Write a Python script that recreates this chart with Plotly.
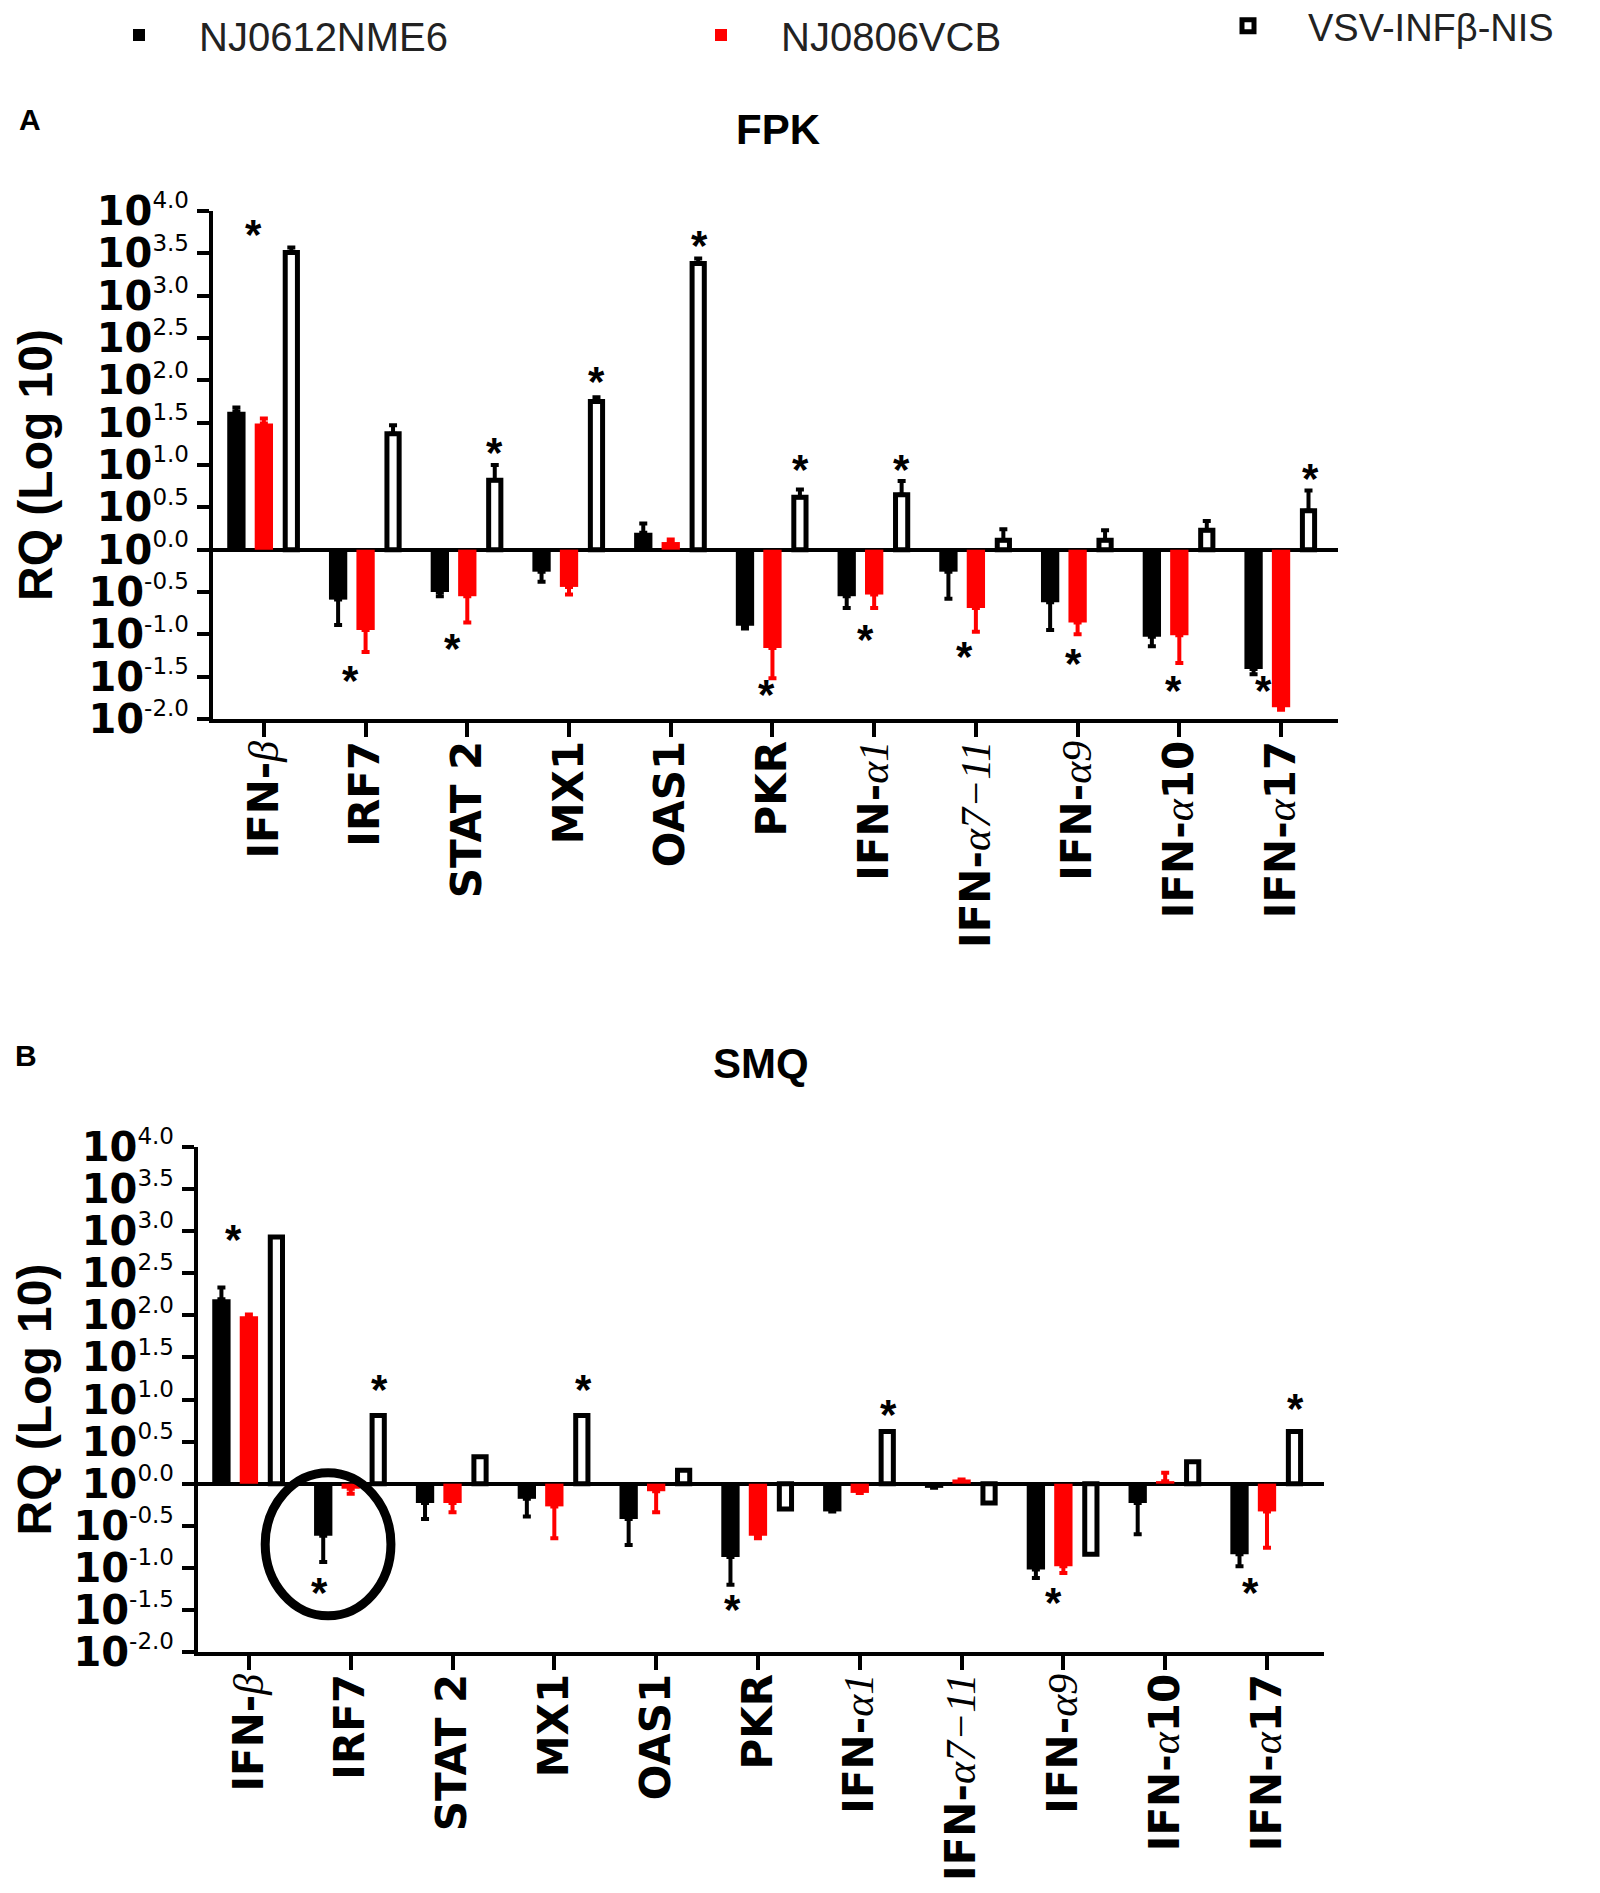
import plotly.graph_objects as go

# ---------------- data ----------------
categories = ["IFN-β", "IRF7", "STAT 2", "MX1", "OAS1", "PKR",
              "IFN-α1", "IFN-α7−11", "IFN-α9", "IFN-α10", "IFN-α17"]

SER = "<span style='font-family:Liberation Serif;font-style:italic;font-weight:normal'>"
tick_labels = ["IFN-" + SER + "β</span>", "IRF7", "STAT 2", "MX1", "OAS1", "PKR",
               "IFN-" + SER + "α1</span>", "IFN-" + SER + "α7−11</span>",
               "IFN-" + SER + "α9</span>", "IFN-" + SER + "α</span>10",
               "IFN-" + SER + "α</span>17"]

series_names = ["NJ0612NME6", "NJ0806VCB", "VSV-INFβ-NIS"]

y_tick_values = [-2.0, -1.5, -1.0, -0.5, 0.0, 0.5, 1.0, 1.5, 2.0, 2.5, 3.0, 3.5, 4.0]

# Panel A: FPK  (log10 RQ)
fpk_nme6 = [1.63, -0.59, -0.50, -0.26, 0.20, -0.90, -0.55, -0.26, -0.62, -1.03, -1.41]
fpk_nme6_err = [0.05, 0.30, 0.05, 0.12, 0.11, 0.03, 0.14, 0.32, 0.33, 0.11, 0.06]
fpk_vcb = [1.49, -0.95, -0.55, -0.44, 0.09, -1.16, -0.53, -0.69, -0.86, -1.01, -1.86]
fpk_vcb_err = [0.06, 0.26, 0.31, 0.09, 0.03, 0.36, 0.16, 0.28, 0.14, 0.33, 0.03]
fpk_vsv = [3.51, 1.37, 0.82, 1.75, 3.38, 0.62, 0.65, 0.11, 0.11, 0.23, 0.46]
fpk_vsv_err = [0.06, 0.10, 0.18, 0.05, 0.06, 0.09, 0.16, 0.13, 0.12, 0.11, 0.24]
fpk_star_cat = [0, 1, 2, 2, 3, 4, 5, 5, 6, 6, 7, 8, 9, 10, 10]
fpk_star_dx = [-0.10, -0.15, 0.27, -0.15, 0.27, 0.28, 0.28, -0.06, 0.27, -0.09, -0.11, -0.04, -0.06, 0.29, -0.17]
fpk_star_y = [3.77, -1.50, 1.20, -1.12, 2.03, 3.64, 1.00, -1.66, 0.99, -1.01, -1.21, -1.30, -1.62, 0.89, -1.62]

# Panel B: SMQ  (log10 RQ)
smq_nme6 = [2.19, -0.62, -0.23, -0.18, -0.42, -0.87, -0.33, -0.05, -1.02, -0.23, -0.84]
smq_nme6_err = [0.14, 0.31, 0.19, 0.21, 0.31, 0.33, 0.0, 0.0, 0.10, 0.37, 0.14]
smq_vcb = [1.99, -0.06, -0.23, -0.27, -0.09, -0.62, -0.11, 0.05, -0.98, 0.03, -0.33]
smq_vcb_err = [0.02, 0.06, 0.11, 0.38, 0.25, 0.03, 0.0, 0.0, 0.08, 0.10, 0.43]
smq_vsv = [2.93, 0.81, 0.32, 0.81, 0.16, -0.30, 0.62, -0.23, -0.84, 0.26, 0.62]
smq_star_cat = [0, 1, 1, 3, 5, 6, 8, 10, 10]
smq_star_dx = [-0.15, 0.28, -0.31, 0.29, -0.25, 0.28, -0.10, 0.28, -0.16]
smq_star_y = [2.95, 1.17, -1.24, 1.17, -1.45, 0.87, -1.36, 0.94, -1.25]

# highlighted region in panel B (ellipse around IRF7)
circle_x = [0.16, 1.395]
circle_y = [-1.57, 0.13]

# ---------------- figure ----------------
W, H = 1600, 1893
FONT = "Liberation Sans, Arial, sans-serif"
WIDE = "DejaVu Sans, Liberation Sans, sans-serif"
xpos = list(range(len(categories)))


def one_sided(vals, errs):
    up = [e if v >= 0 else 0 for v, e in zip(vals, errs)]
    down = [e if v < 0 else 0 for v, e in zip(vals, errs)]
    return up, down


fig = go.Figure()

panels = [
    dict(xa="x", ya="y", data=[(fpk_nme6, fpk_nme6_err), (fpk_vcb, fpk_vcb_err), (fpk_vsv, fpk_vsv_err)],
         show=True),
    dict(xa="x2", ya="y2", data=[(smq_nme6, smq_nme6_err), (smq_vcb, smq_vcb_err), (smq_vsv, None)],
         show=False),
]

styles = [
    dict(color="#000000", line_color="#000000", line_width=0, offset=-0.36, width=0.18, ecolor="#000000"),
    dict(color="#FF0000", line_color="#FF0000", line_width=0, offset=-0.09, width=0.18, ecolor="#FF0000"),
    dict(color="#FFFFFF", line_color="#000000", line_width=5, offset=0.21, width=0.12, ecolor="#000000"),
]
legend_ids = ["legend", "legend2", "legend3"]

for p in panels:
    for i, (vals, errs) in enumerate(p["data"]):
        st = styles[i]
        if errs is not None:
            up, down = one_sided(vals, errs)
            ey = dict(type="data", symmetric=False, array=up, arrayminus=down,
                      color=st["ecolor"], thickness=4, width=4, visible=True)
        else:
            ey = dict(visible=False)
        fig.add_trace(go.Bar(
            x=xpos, y=vals, name=series_names[i],
            xaxis=p["xa"], yaxis=p["ya"],
            offset=st["offset"], width=st["width"],
            marker=dict(color=st["color"], line=dict(color=st["line_color"], width=st["line_width"])),
            error_y=ey,
            showlegend=p["show"], legend=legend_ids[i],
        ))

ytext = ["10<sup><span style='font-size:23px;font-weight:normal'>%.1f</span></sup>" % v for v in y_tick_values]

common_x = dict(range=[-0.5, 10.56], tickmode="array", tickvals=xpos, ticktext=tick_labels,
                tickangle=-90, ticks="outside", ticklen=14, tickwidth=4, tickcolor="black",
                ticklabelstandoff=-13,
                showline=True, linewidth=4, linecolor="black", showgrid=False, zeroline=False,
                tickfont=dict(family=WIDE, size=42, color="black", weight="bold"))
common_y = dict(range=[-2, 4], tickmode="array", tickvals=y_tick_values, ticktext=ytext,
                ticks="outside", ticklen=12, tickwidth=4, tickcolor="black",
                showline=True, linewidth=4, linecolor="black", showgrid=False,
                zeroline=True, zerolinewidth=4, zerolinecolor="black",
                tickfont=dict(family=WIDE, size=40, color="black", weight="bold"),
                title=dict(text="RQ (Log 10)", standoff=22,
                           font=dict(family=FONT, size=48, color="black", weight="bold")))

fig.update_layout(
    width=W, height=H,
    margin=dict(l=0, r=0, t=0, b=0, autoexpand=False),
    paper_bgcolor="white", plot_bgcolor="white",
    barmode="overlay",
    xaxis=dict(domain=[205 / W, 1330 / W], anchor="y", **common_x),
    yaxis=dict(domain=[1 - 711 / H, 1 - 203 / H], anchor="x", **common_y),
    xaxis2=dict(domain=[190 / W, 1316 / W], anchor="y2", **common_x),
    yaxis2=dict(domain=[1 - 1644 / H, 1 - 1139 / H], anchor="x2", **common_y),
    legend=dict(x=71 / W, y=1 - 27 / H, xanchor="left", yanchor="middle", itemwidth=110,
                font=dict(family=FONT, size=40, color="#222222"), bgcolor="rgba(0,0,0,0)"),
    legend2=dict(x=653 / W, y=1 - 27 / H, xanchor="left", yanchor="middle", itemwidth=110,
                 font=dict(family=FONT, size=40, color="#222222"), bgcolor="rgba(0,0,0,0)"),
    legend3=dict(x=1180 / W, y=1 - 18 / H, xanchor="left", yanchor="middle", itemwidth=110,
                 font=dict(family=FONT, size=38, color="#222222"), bgcolor="rgba(0,0,0,0)"),
)

# significance stars
for cats, dxs, ys, xr, yr in [(fpk_star_cat, fpk_star_dx, fpk_star_y, "x", "y"),
                              (smq_star_cat, smq_star_dx, smq_star_y, "x2", "y2")]:
    for c, dx, yv in zip(cats, dxs, ys):
        fig.add_annotation(x=c + dx, y=yv, xref=xr, yref=yr, text="*", showarrow=False,
                           yshift=-4, font=dict(family=FONT, size=42, color="black", weight="bold"))

# panel letters and titles
for txt, px, py, sz in [("A", 22, 112, 30), ("B", 18, 1047, 30), ("FPK", 770, 121, 42), ("SMQ", 753, 1055, 42)]:
    fig.add_annotation(x=px / W, y=1 - py / H, xref="paper", yref="paper", text=txt, showarrow=False,
                       xanchor="center", yanchor="middle",
                       font=dict(family=FONT, size=sz, color="black", weight="bold"))

# highlight ellipse in panel B
fig.add_shape(type="circle", xref="x2", yref="y2", x0=circle_x[0], x1=circle_x[1],
              y0=circle_y[0], y1=circle_y[1], line=dict(color="black", width=9))

fig.write_html("out.html")
